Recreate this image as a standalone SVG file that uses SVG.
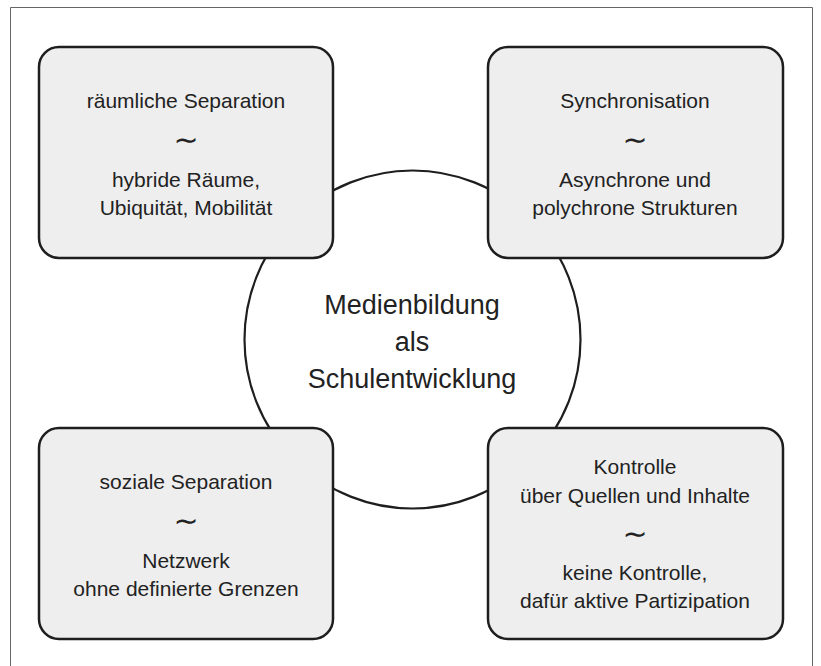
<svg xmlns="http://www.w3.org/2000/svg" width="821" height="666" viewBox="0 0 821 666">
<style>
.box{fill:#eeeeee;stroke:#1e1e1e;stroke-width:2.5}
.ring{fill:#ffffff;stroke:#1e1e1e;stroke-width:2.2}
.t{font-family:"Liberation Sans",Arial,sans-serif;font-size:21px;fill:#222222;text-anchor:middle}
.c{font-family:"Liberation Sans",Arial,sans-serif;font-size:27px;fill:#222222;text-anchor:middle}
.tl{font-family:"DejaVu Sans",sans-serif;font-size:30px;fill:#222222;text-anchor:middle}
</style>
<rect x="0" y="0" width="821" height="666" fill="#ffffff"/>
<path d="M10.5 666 V7.5 H812.5 V666" fill="none" stroke="#666666" stroke-width="1"/>
<g id="connectors"></g>
<g id="center">
<ellipse class="ring" cx="412.5" cy="339.5" rx="168" ry="169"/>
<text class="c" x="412" y="314">Medienbildung</text>
<text class="c" x="412" y="351">als</text>
<text class="c" x="412" y="388">Schulentwicklung</text>
</g>
<g id="raeumliche-separation">
<rect class="box" x="39" y="47" width="294" height="211" rx="20"/>
<text class="t" x="186" y="108">räumliche Separation</text>
<text class="tl" x="186" y="150">∼</text>
<text class="t" x="186" y="187">hybride Räume,</text>
<text class="t" x="186" y="215">Ubiquität, Mobilität</text>
</g>
<g id="synchronisation">
<rect class="box" x="488" y="47" width="295" height="211" rx="20"/>
<text class="t" x="635" y="108">Synchronisation</text>
<text class="tl" x="635" y="150">∼</text>
<text class="t" x="635" y="187">Asynchrone und</text>
<text class="t" x="635" y="215">polychrone Strukturen</text>
</g>
<g id="soziale-separation">
<rect class="box" x="39" y="428" width="294" height="211" rx="20"/>
<text class="t" x="186" y="489">soziale Separation</text>
<text class="tl" x="186" y="531">∼</text>
<text class="t" x="186" y="568">Netzwerk</text>
<text class="t" x="186" y="596">ohne definierte Grenzen</text>
</g>
<g id="kontrolle">
<rect class="box" x="488" y="428" width="295" height="211" rx="20"/>
<text class="t" x="635" y="474">Kontrolle</text>
<text class="t" x="635" y="503">über Quellen und Inhalte</text>
<text class="tl" x="635" y="544">∼</text>
<text class="t" x="635" y="580">keine Kontrolle,</text>
<text class="t" x="635" y="608">dafür aktive Partizipation</text>
</g>
</svg>
